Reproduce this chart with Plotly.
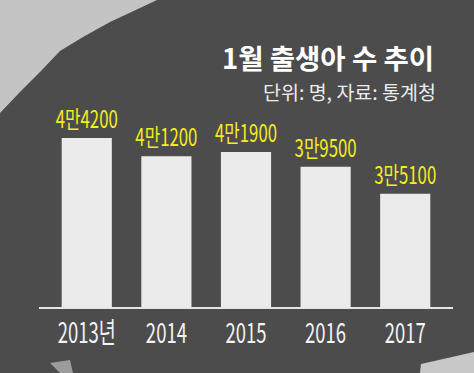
import plotly.graph_objects as go

years = ["2013년", "2014", "2015", "2016", "2017"]
births = [44200, 41200, 41900, 39500, 35100]
labels = ["4만4200", "4만1200", "4만1900", "3만9500", "3만5100"]

W, H = 474, 373
L, R, T, B = 39, 21, 100, 66
PW, PH = W - L - R, H - T - B

def px(x, y):
    return (x - L) / PW, (H - B - y) / PH

def path(pts):
    s = ""
    for i, (x, y) in enumerate(pts):
        a, b = px(x, y)
        s += ("M" if i == 0 else "L") + f"{a:.4f},{b:.4f} "
    return s + "Z"

FONT = "Noto Sans CJK KR, sans-serif"

fig = go.Figure()
fig.add_trace(go.Bar(
    x=years, y=births, text=labels, textposition="outside",
    constraintext="none",
    marker=dict(color="#ebebeb", line=dict(width=0)),
    width=0.63, cliponaxis=False,
    textfont=dict(color="#f4ee1e", size=24, family=FONT),
))

shapes = [
    dict(type="path", xref="paper", yref="paper", layer="below", line=dict(width=0),
         fillcolor="#c4c4c4",
         path=path([(0, 0), (157, 0), (140, 8), (110, 22), (83, 37), (60, 51), (40, 72), (20, 92), (0, 113)])),
    dict(type="path", xref="paper", yref="paper", layer="below", line=dict(width=0),
         fillcolor="#9c9c9c",
         path=path([(50, 363), (70, 360), (73, 373), (60, 373)])),
    dict(type="path", xref="paper", yref="paper", layer="below", line=dict(width=0),
         fillcolor="#c8c8c8",
         path=path([(421, 364), (474, 352), (474, 373), (420, 373)])),
]

fig.update_layout(
    width=W, height=H,
    margin=dict(l=L, r=R, t=T, b=B),
    paper_bgcolor="#4c4c4c", plot_bgcolor="rgba(0,0,0,0)",
    showlegend=False, shapes=shapes,
    xaxis=dict(range=[-0.6, 4.6], showgrid=False, zeroline=False,
               showline=True, linecolor="#e6e6e6", linewidth=2,
               ticks="", tickfont=dict(color="#f4f4f4", size=28, family=FONT)),
    yaxis=dict(range=[16700, 50360], visible=False, showgrid=False),
    annotations=[
        dict(text="<b>1월 출생아 수 추이</b>", xref="paper", yref="paper",
             x=px(436, 0)[0], y=px(0, 57)[1], xanchor="right", yanchor="middle",
             showarrow=False, font=dict(color="#ffffff", size=27.5, family=FONT)),
        dict(text="단위: 명, 자료: 통계청", xref="paper", yref="paper",
             x=px(438, 0)[0], y=px(0, 91)[1], xanchor="right", yanchor="middle",
             showarrow=False, font=dict(color="#ececec", size=19.5, family=FONT)),
    ],
)

post = """
document.body.style.margin = '0';
function squeeze(sel, k) {
  document.querySelectorAll(sel).forEach(function (el) {
    var g = document.createElementNS('http://www.w3.org/2000/svg', 'g');
    el.parentNode.insertBefore(g, el);
    g.appendChild(el);
    var b = g.getBBox();
    var cx = b.x + b.width / 2;
    g.setAttribute('transform', 'translate(' + cx + ',0) scale(' + k + ',1) translate(' + (-cx) + ',0)');
  });
}
squeeze('.xtick text', 0.66);
squeeze('.bartext', 0.70);
"""
fig.write_html("out.html", post_script=post, config={"displayModeBar": False})
